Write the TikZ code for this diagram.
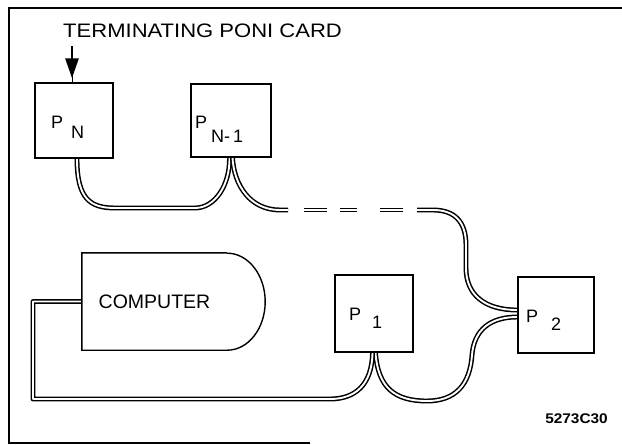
\documentclass[tikz,border=0pt]{standalone}
\usepackage{fontspec}
\setmainfont{Liberation Sans}
\usetikzlibrary{arrows.meta,backgrounds}
\begin{document}
\begin{tikzpicture}[x=1pt,y=-1pt,
  box/.style={draw, line width=1.4pt, inner sep=0pt},
  cable/.style={draw, line width=1.5pt, double=white, double distance=1.9pt, line join=round},
  frame/.style={line width=2pt},
  lbl/.style={inner sep=0pt, anchor=base west, font=\fontsize{18}{18}\selectfont},
]
\useasboundingbox (0,0) rectangle (622,445);
% frame
\draw[frame] (622,8) -- (9,8) -- (9,443) -- (310,443);
% title
\node[inner sep=0pt, anchor=base west, font=\fontsize{19.5}{20}\selectfont] (title) at (63,37) {\scalebox{1.13}[1]{TERMINATING PONI CARD}};
% boxes
\node[box, minimum width=78pt, minimum height=75pt] (pn) at (74,120.5) {};
\node[box, minimum width=80pt, minimum height=73pt] (pn1) at (231,120.5) {};
\node[box, minimum width=78pt, minimum height=77pt] (p1) at (374,313.5) {};
\node[box, minimum width=76pt, minimum height=76pt] (p2) at (556,315) {};
% labels
\node[lbl] (lpn) at (51,128) {P\hspace{8pt}\raisebox{-10pt}{N}};
\node[lbl] (lpn1) at (195,128) {P\hspace{4pt}\raisebox{-14pt}{N-\hspace{3pt}1}};
\node[lbl] (lp1) at (349,320) {P\hspace{11pt}\raisebox{-8pt}{1}};
\node[lbl] (lp2) at (526,322) {P\hspace{13pt}\raisebox{-8pt}{2}};
% computer
\node[inner sep=0pt, minimum width=145pt, minimum height=97pt, font=\fontsize{19.5}{20}\selectfont] (comp) at (154.5,301.5) {COMPUTER};
\draw[line width=1.4pt] (comp.north east) -- (comp.north west) -- (comp.south west) -- (comp.south east) arc[start angle=-90, end angle=90, x radius=38pt, y radius=48.5pt];
% arrow
\coordinate (atop) at (72,46);
\draw[line width=1pt] (atop) -- (pn.north -| atop);
\draw[line width=2.8pt, -{Triangle[width=13pt,length=20pt]}, shorten >=4pt] (atop) -- (pn.north -| atop);
% code
\node[inner sep=0pt, anchor=base east, font=\bfseries\fontsize{14}{14}\selectfont] (code) at (608,423) {\scalebox{1.1}[1]{5273C30}};
% cables
\coordinate (d1) at (288,210);
\coordinate (d2) at (417,210);
\begin{scope}[on background layer]
\draw[cable] ([xshift=3pt]pn.south) .. controls +(0,40) and (90,208) .. (115,208) -- (195,208) .. controls (215,208) and (230,185) .. ([xshift=-1.5pt]pn1.south);
\draw[cable] ([xshift=1.5pt]pn1.south) .. controls (234,185) and (250,210) .. (280,210) -- (d1);
\draw[cable, dash pattern=on 0pt off 16pt on 23pt off 13pt on 17pt off 23pt on 23pt off 14pt] (d1) -- (d2);
\draw[cable] (d2) -- (433,210) .. controls (455,210) and (466,222) .. (466,245) -- (466,268) .. controls (466,295) and (485,310) .. ([yshift=5pt]p2.west);
\draw[cable] ([xshift=1.5pt]p1.south) .. controls (378,388) and (395,401) .. (427,401) .. controls (455,401) and (470,385) .. (472,355) .. controls (474,330) and (490,317) .. ([yshift=-2pt]p2.west);
\draw[cable] (comp.west) -- (33,301.5) -- (33,399) -- (330,399) .. controls (355,399) and (372,385) .. ([xshift=-1.5pt]p1.south);
\end{scope}
\end{tikzpicture}
\end{document}
